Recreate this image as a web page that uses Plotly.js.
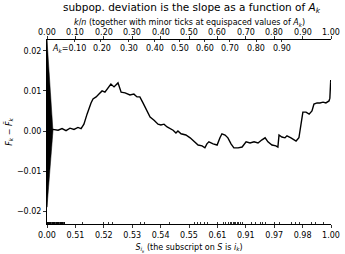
<!DOCTYPE html>
<html><head><meta charset="utf-8">
<script src="https://cdn.plot.ly/plotly-3.0.1.min.js"></script>
<style>html,body{margin:0;padding:0;background:#fff}#chart{width:345px;height:254px}</style>
</head><body><div id="chart"></div>
<script>
// cumulative deviation curve (x = k/n, y = F_k - F~_k)
const curveX = [0,0.021,0.039,0.053,0.067,0.081,0.095,0.109,0.120,0.130,0.141,0.148,0.155,0.162,0.173,0.183,0.194,0.204,0.215,0.225,0.236,0.250,0.261,0.275,0.292,0.306,0.317,0.327,0.338,0.352,0.363,0.377,0.391,0.401,0.412,0.423,0.433,0.444,0.454,0.461,0.472,0.489,0.504,0.518,0.532,0.546,0.556,0.563,0.570,0.585,0.599,0.609,0.616,0.627,0.637,0.648,0.658,0.673,0.687,0.701,0.715,0.729,0.743,0.757,0.768,0.778,0.792,0.806,0.813,0.817,0.827,0.838,0.845,0.859,0.877,0.887,0.891,0.894,0.901,0.912,0.923,0.933,0.940,0.951,0.961,0.972,0.982,0.993,0.996,0.999,1.0];
const curveY = [0,0.0004,0.0002,0.0006,0.0001,0.0007,0.0004,0.0009,0.0006,0.0017,0.0042,0.0057,0.0070,0.0080,0.0085,0.0092,0.0100,0.0097,0.0107,0.0117,0.0110,0.0120,0.0097,0.0095,0.0090,0.0092,0.0085,0.0085,0.0070,0.0050,0.0035,0.0027,0.0017,0.0015,0.0017,0.0010,0.0007,0.0002,-0.0005,0,-0.0007,-0.0010,-0.0017,-0.0025,-0.0035,-0.0037,-0.0042,-0.0032,-0.0027,-0.0032,-0.0035,-0.0017,-0.0007,-0.0010,-0.0017,-0.0032,-0.0042,-0.0042,-0.0040,-0.0027,-0.0030,-0.0027,-0.0030,-0.0022,-0.0017,-0.0027,-0.0035,-0.0037,-0.0040,-0.0010,-0.0015,-0.0017,-0.0012,-0.0017,-0.0025,-0.0017,0.0002,0.0025,0.0047,0.0047,0.0042,0.0050,0.0067,0.0070,0.0070,0.0072,0.0070,0.0075,0.0082,0.0127,0.0122];
// scale triangle at the origin
const wedgeX = [0,0.021,0,0];
const wedgeY = [0.0227,0,-0.019,0.0227];
// bottom axis: equispaced k/n ticks labelled with S_{i_k}
const bottomTickVals = [0,0.1,0.2,0.3,0.4,0.5,0.6,0.7,0.8,0.9,1.0];
const bottomTickText = ["0.00","0.51","0.52","0.53","0.54","0.55","0.61","0.91","0.97","0.98","1.00"];
// top axis: k/n
const topTickVals = [0,0.1,0.2,0.3,0.4,0.5,0.6,0.7,0.8,0.9,1.0];
const topTickText = ["0.00","0.10","0.20","0.30","0.40","0.50","0.60","0.70","0.80","0.90","1.00"];
// minor ticks at equispaced values of A_k
const akPos = [0.098,0.19,0.287,0.38,0.468,0.556,0.644,0.736,0.827];
const akText = ["<i>A</i><sub><i>k</i></sub>=0.10","0.20","0.30","0.40","0.50","0.60","0.70","0.80","0.90"];
// bottom minor ticks (positions of distinct S values)
const rugSparse = [0.125,0.2,0.215,0.23,0.33,0.345,0.43,0.52,0.53,0.54,0.555,0.565,0.6,0.62,0.63,0.64,0.645,0.65,0.655,0.66,0.665,0.67,0.675,0.68,0.69,0.72,0.735,0.75,0.76,0.77,0.8,0.82,0.86,0.875,0.89,0.93,0.945,0.975];
const yTickVals = [-0.02,-0.01,0,0.01,0.02];
const yTickText = ["\u22120.02","\u22120.01","0.00","0.01","0.02"];

const rug = [];
for (let v = 0; v <= 0.064; v += 0.002) rug.push(+v.toFixed(3));
const minorBottom = rug.concat(rugSparse);

const F = "DejaVu Sans, sans-serif";
const K = '#000';
const TF = {family:F, size:8, color:K};
const traces = [
  {x: wedgeX, y: wedgeY, type:'scatter', mode:'lines', fill:'toself', fillcolor:K, line:{color:K, width:0.5}, hoverinfo:'skip'},
  {x: curveX, y: curveY, type:'scatter', mode:'lines', line:{color:K, width:1.4}},
  {x: [0,1], y: [0,0], xaxis:'x2', type:'scatter', mode:'lines', line:{width:0}, opacity:0, hoverinfo:'skip'}
];
const annotations = akPos.map((p,i)=>({x:p, y:1, xref:'x', yref:'paper', yanchor:'top', yshift:-2, xshift:(i===0?-6:(i===1?1:0)), text:akText[i], showarrow:false, font:TF}));
topTickVals.forEach((v,i)=>annotations.push({x:v, y:1, xref:'x', yref:'paper', yanchor:'bottom', yshift:1.5, text:topTickText[i], showarrow:false, font:TF}));
annotations.push({x:0.5, y:1, xref:'paper', yref:'paper', yanchor:'middle', yshift:17, text:"<i>k</i>/<i>n</i> (together with minor ticks at equispaced values of <i>A</i><sub><i>k</i></sub>)", showarrow:false, font:TF});
const layout = {
  width:345, height:254,
  margin:{l:47, r:14, t:40, b:30},
  paper_bgcolor:'#fff', plot_bgcolor:'#fff',
  showlegend:false,
  title:{text:"subpop. deviation is the slope as a function of <i>A</i><sub><i>k</i></sub>", x:0.555, xanchor:'center', y:0.985, yanchor:'top', font:{family:F, size:10.5, color:K}},
  font:{family:F, size:8, color:K},
  xaxis:{range:[0,1], tickmode:'array', tickvals:bottomTickVals, ticktext:bottomTickText, ticks:'outside', ticklen:3, tickwidth:0.8, tickcolor:K,
    showline:true, linecolor:K, linewidth:1, showgrid:false, zeroline:false, tickfont:TF,
    minor:{tickmode:'array', tickvals:minorBottom, ticks:'inside', ticklen:2, tickwidth:0.8, tickcolor:K, showgrid:false},
    title:{text:"<i>S</i><sub><i>i</i><sub><i>k</i></sub></sub> (the subscript on <i>S</i> is <i>i</i><sub><i>k</i></sub>)", font:TF, standoff:5}},
  xaxis2:{range:[0,1], overlaying:'x', side:'top', anchor:'y', tickmode:'array', tickvals:topTickVals, showticklabels:false, ticks:'outside', ticklen:3, tickwidth:0.8, tickcolor:K,
    showline:true, linecolor:K, linewidth:1, showgrid:false, zeroline:false,
    minor:{tickmode:'array', tickvals:akPos, ticks:'inside', ticklen:2, tickwidth:0.8, tickcolor:K, showgrid:false}},
  yaxis:{range:[-0.0232,0.0227], tickmode:'array', tickvals:yTickVals, ticktext:yTickText, ticks:'outside', ticklen:3, tickwidth:0.8, tickcolor:K,
    showline:true, linecolor:K, linewidth:1, showgrid:false, zeroline:false, tickfont:TF,
    title:{text:"<i>F</i><sub><i>k</i></sub> \u2212 <i>F\u0303</i><sub><i>k</i></sub>", font:TF, standoff:3}},
  yaxis2:{range:[-0.0232,0.0227], overlaying:'y', side:'right', anchor:'x', showline:true, linecolor:'#888', linewidth:1.2, showticklabels:false, ticks:'', showgrid:false, zeroline:false},
  annotations: annotations
};
Plotly.newPlot('chart', traces, layout, {displayModeBar:false, staticPlot:true});
</script></body></html>
